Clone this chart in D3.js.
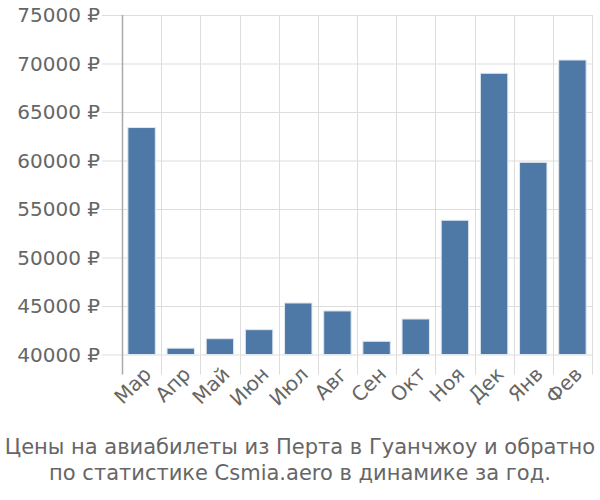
<!DOCTYPE html>
<html>
<head>
<meta charset="utf-8">
<script src="https://cdn.jsdelivr.net/npm/d3@7"></script>
<style>
  body { margin: 0; background: #fff; }
  text { font-family: "DejaVu Sans", sans-serif; }
</style>
</head>
<body>
<div id="vis"></div>
<script>
const months = ["Мар", "Апр", "Май", "Июн", "Июл", "Авг", "Сен", "Окт", "Ноя", "Дек", "Янв", "Фев"];
const prices = [63400, 40650, 41630, 42560, 45310, 44490, 41360, 43660, 53840, 68990, 59810, 70360];
const yTicks = [40000, 45000, 50000, 55000, 60000, 65000, 70000, 75000];
const titleLines = ["Цены на авиабилеты из Перта в Гуанчжоу и обратно", "по статистике Csmia.aero в динамике за год."];

const FRAME_WIDTH = 600;
const FRAME_HEIGHT = 500;
const MARGINS = {left: 122, right: 8, top: 15, bottom: 145.5};
const VIS_WIDTH = FRAME_WIDTH - MARGINS.left - MARGINS.right;
const VIS_HEIGHT = FRAME_HEIGHT - MARGINS.top - MARGINS.bottom;

const svg = d3.select("#vis")
  .append("svg")
  .attr("width", FRAME_WIDTH)
  .attr("height", FRAME_HEIGHT);

const X_SCALE = d3.scaleBand()
  .domain(months)
  .range([0, VIS_WIDTH])
  .paddingInner(0.3)
  .paddingOuter(0.15);

const Y_SCALE = d3.scaleLinear()
  .domain([40000, 75000])
  .range([VIS_HEIGHT, 0]);

const g = svg.append("g")
  .attr("transform", "translate(" + MARGINS.left + "," + MARGINS.top + ")");

// horizontal grid + tick stubs
g.selectAll(".hgrid")
  .data(yTicks)
  .enter()
  .append("line")
    .attr("x1", -20)
    .attr("x2", VIS_WIDTH)
    .attr("y1", d => Y_SCALE(d) + 0.5)
    .attr("y2", d => Y_SCALE(d) + 0.5)
    .attr("stroke", "#dddddd")
    .attr("stroke-width", 1);

// vertical grid at band edges
const step = X_SCALE.step();
const edges = d3.range(months.length + 1).map(i => i * step);
g.selectAll(".vgrid")
  .data(edges)
  .enter()
  .append("line")
    .attr("x1", d => Math.round(d) + 0.5)
    .attr("x2", d => Math.round(d) + 0.5)
    .attr("y1", 0)
    .attr("y2", VIS_HEIGHT + 20)
    .attr("stroke", (d, i) => i === 0 ? "#aaaaaa" : "#dddddd")
    .attr("stroke-width", (d, i) => i === 0 ? 1.5 : 1);

// y labels
g.selectAll(".ylab")
  .data(yTicks)
  .enter()
  .append("text")
    .attr("x", -22)
    .attr("y", d => Y_SCALE(d))
    .attr("dy", "0.35em")
    .attr("text-anchor", "end")
    .attr("font-size", "20px")
    .attr("fill", "#666666")
    .text(d => d + " ₽");

// bars
g.selectAll(".bar")
  .data(prices)
  .enter()
  .append("rect")
    .attr("x", (d, i) => X_SCALE(months[i]))
    .attr("width", X_SCALE.bandwidth())
    .attr("y", d => Y_SCALE(d))
    .attr("height", d => VIS_HEIGHT - Y_SCALE(d))
    .attr("fill", "#4e79a7")
    .attr("stroke", "#dfe6ee")
    .attr("stroke-width", 1);

// x labels
g.selectAll(".xlab")
  .data(months)
  .enter()
  .append("text")
    .attr("transform", d => "translate(" + (X_SCALE(d) + X_SCALE.bandwidth() / 2 + 6) + "," + (VIS_HEIGHT + 16) + ") rotate(-45)")
    .attr("text-anchor", "end")
    .attr("dy", "0.35em")
    .attr("font-size", "20px")
    .attr("fill", "#666666")
    .text(d => d);

// title
svg.selectAll(".title")
  .data(titleLines)
  .enter()
  .append("text")
    .attr("x", 300)
    .attr("y", (d, i) => 454 + i * 26)
    .attr("text-anchor", "middle")
    .attr("font-size", "21px")
    .attr("fill", "#666666")
    .text(d => d);
</script>
</body>
</html>
